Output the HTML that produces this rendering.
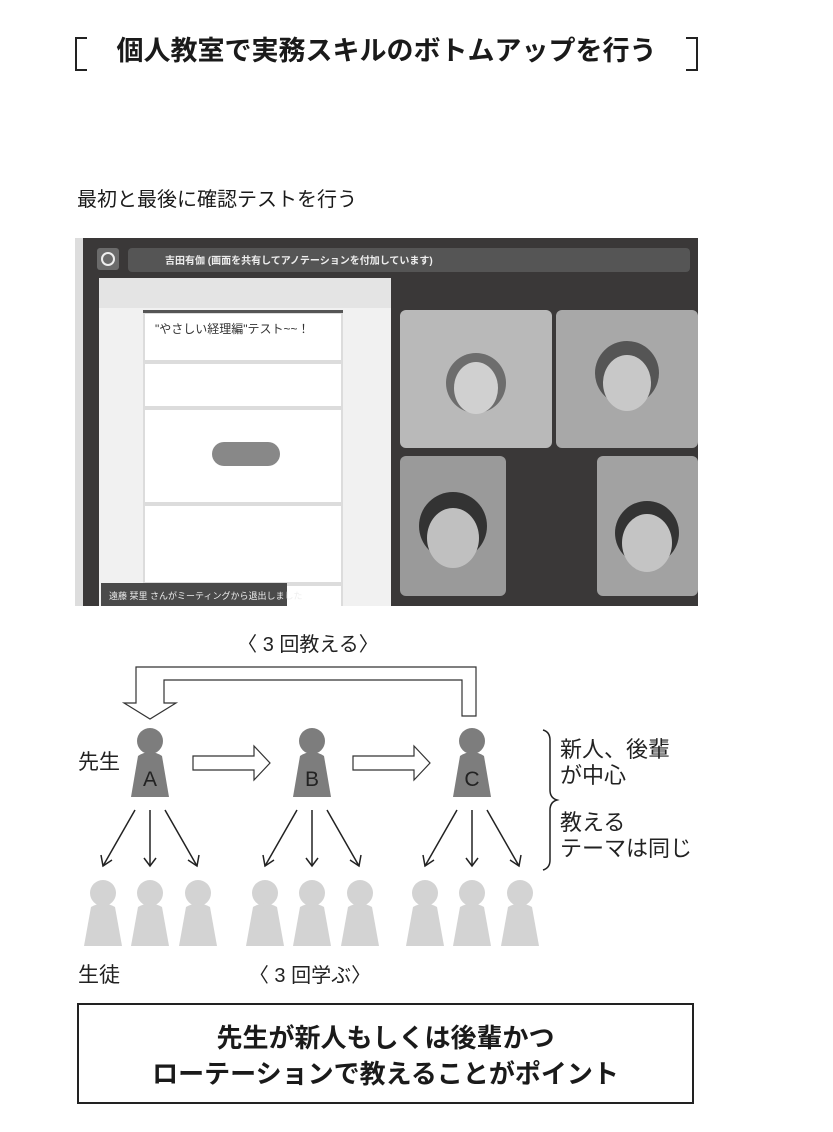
<!DOCTYPE html>
<html><head><meta charset="utf-8"><style>
html,body{margin:0;padding:0;background:#fff;}
body{width:833px;height:1132px;position:relative;overflow:hidden;font-family:"Liberation Sans","Noto Sans CJK JP",sans-serif;color:#1a1a1a;}
.abs{position:absolute;}
</style></head><body>
<!-- title brackets -->
<div class="abs" style="left:75px;top:37px;width:10px;height:30px;border:2px solid #222;border-right:none;"></div>
<div class="abs" style="left:686px;top:37px;width:10px;height:30px;border:2px solid #222;border-left:none;"></div>
<div class="abs" style="left:75px;top:33px;width:623px;text-align:center;font-size:27px;font-weight:bold;line-height:36px;">個人教室で実務スキルのボトムアップを行う</div>
<div class="abs" style="left:77px;top:186px;font-size:20px;line-height:28px;">最初と最後に確認テストを行う</div>

<!-- photo -->
<svg class="abs" style="left:75px;top:238px" width="623" height="368" viewBox="0 0 623 368">
<rect width="623" height="368" fill="#3a3838"/>
<rect x="0" y="0" width="8" height="368" fill="#ddd"/>
<rect x="22" y="10" width="22" height="22" rx="3" fill="#6b6b6b"/>
<circle cx="33" cy="21" r="6" fill="none" stroke="#eee" stroke-width="2"/>
<rect x="53" y="10" width="562" height="24" rx="4" fill="#555"/>
<text x="90" y="26" font-size="10" fill="#eee" font-weight="bold" font-family="Liberation Sans,Noto Sans CJK JP,sans-serif">吉田有伽 (画面を共有してアノテーションを付加しています)</text>
<rect x="24" y="40" width="292" height="328" fill="#f1f1f1"/>
<rect x="24" y="40" width="292" height="30" fill="#e4e4e4"/>
<rect x="68" y="72" width="200" height="296" fill="#dcdcdc"/>
<rect x="68" y="72" width="200" height="3" fill="#555"/>
<rect x="70" y="76" width="196" height="46" fill="#fff"/>
<text x="80" y="95" font-size="12" fill="#333" font-family="Liberation Sans,Noto Sans CJK JP,sans-serif">"やさしい経理編"テスト~~！</text>
<rect x="70" y="126" width="196" height="42" fill="#fff"/>
<rect x="70" y="172" width="196" height="92" fill="#fff"/>
<rect x="70" y="268" width="196" height="76" fill="#fff"/>
<rect x="70" y="348" width="196" height="20" fill="#fff"/>
<rect x="26" y="345" width="186" height="23" fill="#4a4a4a"/>
<text x="34" y="361" font-size="9" fill="#eee" font-family="Liberation Sans,Noto Sans CJK JP,sans-serif">遠藤 栞里 さんがミーティングから退出しました</text>
<rect x="137" y="204" width="68" height="24" rx="12" fill="#888"/>
<rect x="325" y="72" width="152" height="138" rx="6" fill="#b9b9b9"/>
<rect x="481" y="72" width="142" height="138" rx="6" fill="#a8a8a8"/>
<rect x="325" y="218" width="106" height="140" rx="6" fill="#9a9a9a"/>
<rect x="522" y="218" width="101" height="140" rx="6" fill="#a2a2a2"/>
<circle cx="401" cy="145" r="30" fill="#6d6d6d"/><ellipse cx="401" cy="150" rx="22" ry="26" fill="#d0d0d0"/>
<circle cx="552" cy="135" r="32" fill="#555"/><ellipse cx="552" cy="145" rx="24" ry="28" fill="#c8c8c8"/>
<circle cx="378" cy="288" r="34" fill="#333"/><ellipse cx="378" cy="300" rx="26" ry="30" fill="#c0c0c0"/>
<circle cx="572" cy="295" r="32" fill="#333"/><ellipse cx="572" cy="305" rx="25" ry="29" fill="#c4c4c4"/>
</svg>

<!-- diagram -->
<svg class="abs" style="left:0;top:620px" width="833" height="380" viewBox="0 620 833 380" font-family="Liberation Sans,Noto Sans CJK JP,sans-serif">
<text x="308" y="651" font-size="20" text-anchor="middle" fill="#222">〈 3 回教える〉</text>
<path d="M462,716 L462,680 L164,680 L164,703 L176,703 L150,719 L124,703 L136,703 L136,667 L476,667 L476,716 Z" fill="#fff" stroke="#333" stroke-width="1.2"/>
<g fill="#fff" stroke="#333" stroke-width="1.2">
<path d="M193,756 L254,756 L254,746 L270,763 L254,780 L254,770 L193,770 Z"/>
<path d="M353,756 L414,756 L414,746 L430,763 L414,780 L414,770 L353,770 Z"/>
</g>
<g fill="#7d7d7d">
<circle cx="150" cy="741" r="13"/><path d="M138,756 Q150,748 162,756 L169,797 L131,797 Z"/>
<circle cx="312" cy="741" r="13"/><path d="M300,756 Q312,748 324,756 L331,797 L293,797 Z"/>
<circle cx="472" cy="741" r="13"/><path d="M460,756 Q472,748 484,756 L491,797 L453,797 Z"/>
</g>
<g font-size="21" fill="#222" text-anchor="middle"><text x="150" y="786">A</text><text x="312" y="786">B</text><text x="472" y="786">C</text></g>
<text x="78" y="769" font-size="21" fill="#222">先生</text>
<g stroke="#222" stroke-width="1.5" fill="none">
<g id="fa">
<line x1="135" y1="810" x2="103" y2="866"/><path d="M101,855 L103,866 L112,860"/>
<line x1="150" y1="810" x2="150" y2="866"/><path d="M144,858 L150,866 L156,858"/>
<line x1="165" y1="810" x2="197" y2="866"/><path d="M188,860 L197,866 L199,855"/>
</g>
<use href="#fa" x="162"/><use href="#fa" x="322"/>
<path d="M543,730 Q550,732 550,740 L550,790 Q550,798 557,800 Q550,802 550,810 L550,860 Q550,868 543,870"/>
</g>
<g fill="#d3d3d3" id="st">
<circle cx="103" cy="893" r="13"/><path d="M91,907 Q103,900 115,907 L122,946 L84,946 Z"/>
<circle cx="150" cy="893" r="13"/><path d="M138,907 Q150,900 162,907 L169,946 L131,946 Z"/>
<circle cx="198" cy="893" r="13"/><path d="M186,907 Q198,900 210,907 L217,946 L179,946 Z"/>
</g>
<use href="#st" x="162"/><use href="#st" x="322"/>
<g font-size="22" fill="#222">
<text x="560" y="757">新人、後輩</text><text x="560" y="783">が中心</text>
<text x="560" y="830">教える</text><text x="560" y="856">テーマは同じ</text>
</g>
<text x="78" y="982" font-size="21" fill="#222">生徒</text>
<text x="310" y="982" font-size="20" text-anchor="middle" fill="#222">〈 3 回学ぶ〉</text>
</svg>

<div class="abs" style="left:77px;top:1003px;width:617px;height:101px;border:2px solid #222;text-align:center;font-size:26px;font-weight:bold;line-height:36px;padding-top:15px;box-sizing:border-box;">先生が新人もしくは後輩かつ<br>ローテーションで教えることがポイント</div>
</body></html>
